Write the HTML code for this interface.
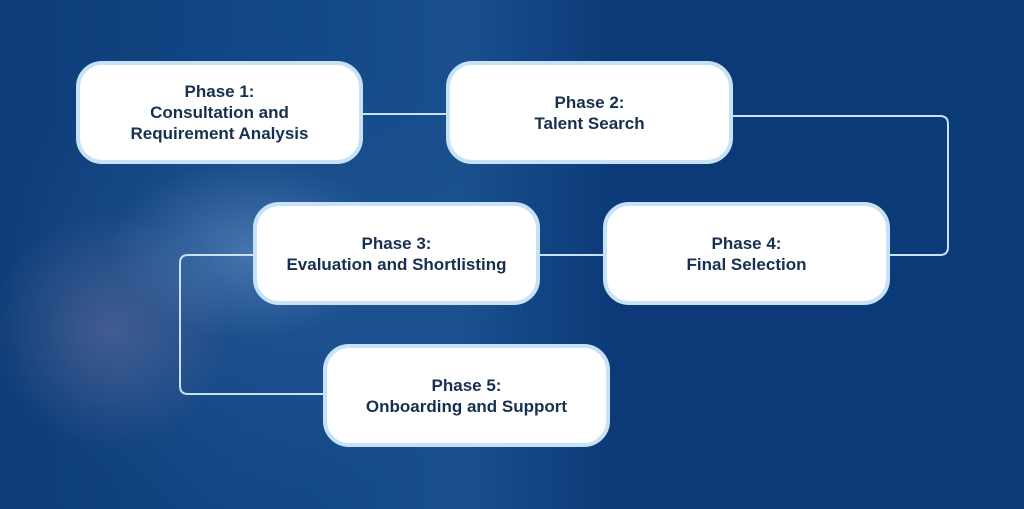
<!DOCTYPE html>
<html><head><style>
body{margin:0;width:1024px;height:509px;overflow:hidden;font-family:"Liberation Sans",sans-serif;}
#bg{position:absolute;left:0;top:0;width:1024px;height:509px;background:
radial-gradient(ellipse 140px 90px at 250px 250px,rgba(120,160,210,0.45),transparent),
radial-gradient(ellipse 120px 120px at 110px 330px,rgba(150,130,170,0.35),transparent),
radial-gradient(ellipse 260px 240px at 250px 280px,rgba(40,90,150,0.6),transparent),
linear-gradient(90deg,#0d3d78 0%,#134888 30%,#1a4f8e 45%,#0c3a78 60%,#0b3a78 100%);}
.box{position:absolute;width:279px;height:95px;background:#fff;border:4px solid #c6e2f4;border-radius:26px;display:flex;align-items:center;justify-content:center;text-align:center;color:#17304f;font-weight:bold;font-size:17px;line-height:21px;}
</style></head><body>
<div id="bg"></div>
<svg width="1024" height="509" style="position:absolute;left:0;top:0">
<g fill="none" stroke="#c6e2f4" stroke-width="2">
<line x1="361" y1="114" x2="446" y2="114"/>
<path d="M733 116 H940 Q948 116 948 124 V247 Q948 255 940 255 H890"/>
<line x1="540" y1="255" x2="603" y2="255"/>
<path d="M253 255 H188 Q180 255 180 263 V386 Q180 394 188 394 H323"/>
</g>
</svg>
<div class="box" style="left:76px;top:61px">Phase 1:<br>Consultation and<br>Requirement Analysis</div>
<div class="box" style="left:446px;top:61px">Phase 2:<br>Talent Search</div>
<div class="box" style="left:253px;top:202px">Phase 3:<br>Evaluation and Shortlisting</div>
<div class="box" style="left:603px;top:202px">Phase 4:<br>Final Selection</div>
<div class="box" style="left:323px;top:344px">Phase 5:<br>Onboarding and Support</div>
</body></html>
